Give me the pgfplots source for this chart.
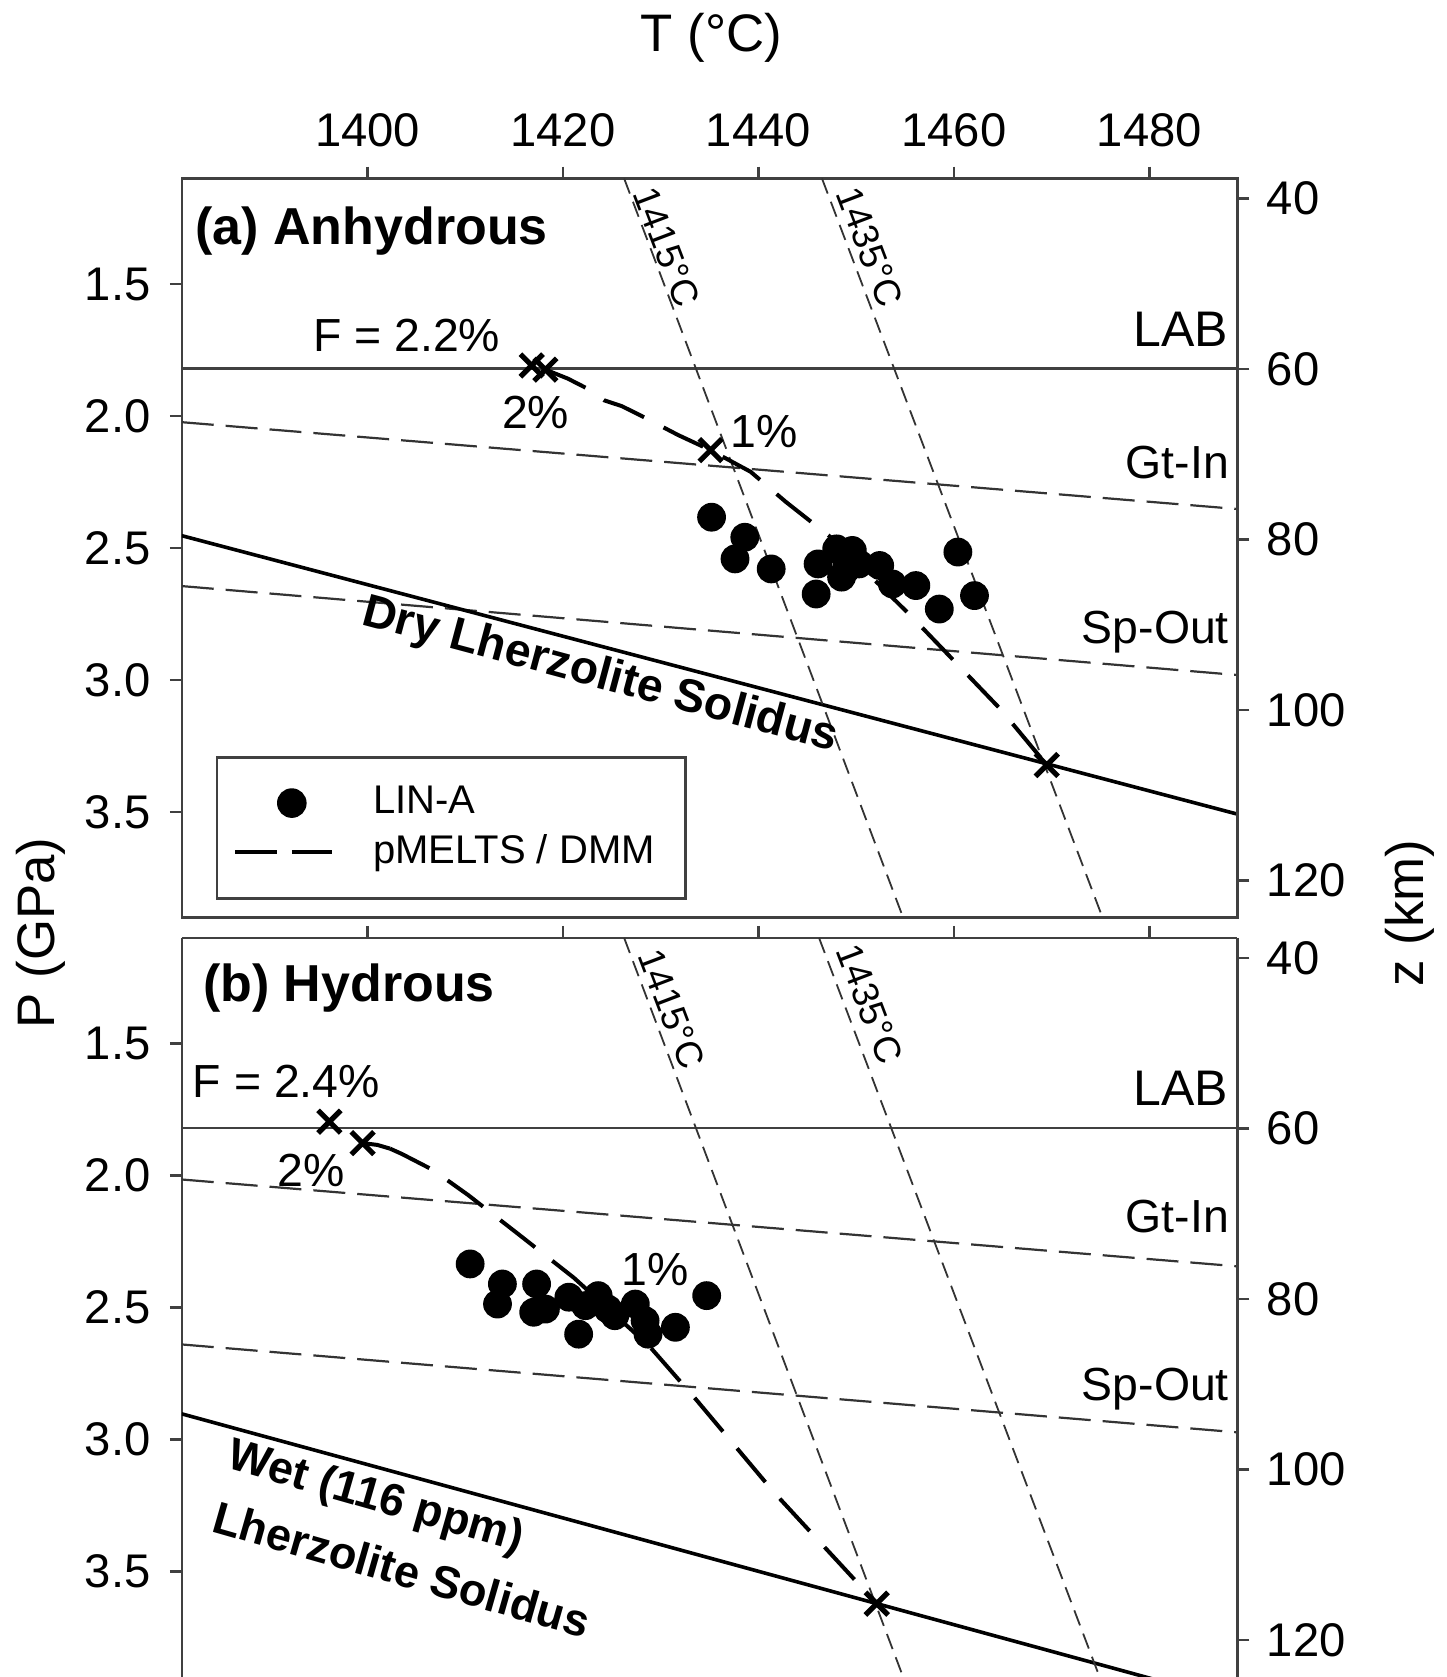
\documentclass[border=0pt]{standalone}
\usepackage{fontspec}
\setmainfont{Liberation Sans}
\setsansfont{Liberation Sans}
\usepackage{pgfplots}
\pgfplotsset{compat=1.18}
\tikzset{
  txt/.style={font=\fontsize{11.6}{13}\selectfont, inner sep=0pt},
  btxt/.style={font=\fontsize{13}{15}\selectfont\bfseries, inner sep=0pt},
  stxt/.style={font=\fontsize{9.3}{11}\selectfont, inner sep=0pt},
}
\begin{document}
\begin{tikzpicture}
\useasboundingbox (0pt,0pt) rectangle (361.5pt,419.25pt);
\pgfplotsset{
  panel/.style={
    scale only axis, width=263.9pt, height=184.75pt,
    xmin=1381, xmax=1489, ymin=1.1, ymax=3.9, y dir=reverse,
    xtick={1400,1420,1440,1460,1480}, ytick={1.5,2.0,2.5,3.0,3.5},
    tick align=outside, major tick length=3pt,
    axis line style={black!75, line width=0.6pt},
    every tick/.style={black!75, line width=0.6pt},
    ytick pos=left,
    /pgf/number format/assume math mode=true,
    tick label style={font=\fontsize{11.8}{14}\selectfont},
    yticklabel style={xshift=-1.3pt, /pgf/number format/.cd, fixed, fixed zerofill, precision=1, assume math mode=true},
    xticklabel style={yshift=1.3pt, /pgf/number format/.cd, 1000 sep={}, assume math mode=true},
  },
  zax/.style={
    scale only axis, width=263.9pt, height=184.75pt,
    xmin=1381, xmax=1489, ymin=37.68, ymax=124.34, y dir=reverse,
    axis x line=none, axis y line*=right, y axis line style={-, black!75, line width=0.6pt},
    ytick={40,60,80,100,120}, tick align=outside, major tick length=3pt,
    every tick/.style={black!75, line width=0.6pt},
    /pgf/number format/assume math mode=true,
    tick label style={font=\fontsize{11.8}{14}\selectfont},
    yticklabel style={xshift=0.8pt},
  },
  lab/.style={black!75, line width=0.6pt},
  bnd/.style={black!80, line width=0.55pt, dash pattern=on 8pt off 3pt},
  adia/.style={black!80, line width=0.45pt, dash pattern=on 4pt off 2.2pt},
  sol/.style={black, line width=0.9pt},
  melt/.style={black, line width=1pt, dash pattern=on 11pt off 5.5pt},
  dots/.style={only marks, mark=*, mark size=3.4pt, black},
  xs/.style={only marks, mark=x, mark size=4pt, black, line width=1.3pt},
}
% ---------- top panel ----------
\begin{axis}[panel, at={(45.45pt,189.85pt)}, anchor=south west,
  xtick pos=right, xticklabel pos=right,
  legend style={at={(axis cs:1384.5,3.289)}, anchor=north west,
    draw=black!75, line width=0.6pt, font=\fontsize{10}{12}\selectfont,
    inner xsep=4pt, inner ysep=5.7pt, row sep=0.7pt,
    nodes={inner ysep=1.5pt, inner xsep=1pt},
    /tikz/every odd column/.append style={column sep=8.85pt}},
  legend cell align=left]
\addplot[lab, forget plot] coordinates {(1381,1.82) (1489,1.82)};
\addplot[bnd, forget plot] coordinates {(1381,2.023) (1489,2.352)};
\addplot[bnd, forget plot] coordinates {(1381,2.644) (1489,2.981)};
\addplot[sol, forget plot] coordinates {(1381,2.453) (1489,3.508)};
\addplot[adia, forget plot] coordinates {(1426.26,1.1) (1454.8,3.9)};
\addplot[adia, forget plot] coordinates {(1446.5,1.1) (1475.2,3.9)};
\addplot[dots, legend image code/.code={\path[draw=none,fill=none] (0pt,0pt) -- (24.15pt,0pt); \fill[black] (14.15pt,0pt) circle (3.4pt);}] coordinates {
(1435.2,2.383) (1438.6,2.459) (1437.6,2.541) (1441.3,2.579) (1446.1,2.560)
(1445.9,2.674) (1448.0,2.503) (1449.6,2.509) (1448.5,2.610) (1448.8,2.528)
(1449.0,2.579) (1450.3,2.560) (1452.4,2.566) (1453.7,2.636) (1456.1,2.642)
(1458.5,2.731) (1460.4,2.515) (1462.1,2.680)};
\addlegendentry{LIN-A}
\addplot[melt, legend image code/.code={\draw[black, line width=1pt, dash pattern=on 10.4pt off 3.75pt] (0pt,0pt) -- (24.15pt,0pt);}] coordinates {
(1418.2,1.824) (1420.5,1.858) (1422.4,1.894) (1424.2,1.940) (1426.0,1.962)
(1427.8,1.995) (1431.8,2.072) (1435.1,2.129) (1439.2,2.211) (1442.8,2.325)
(1447.6,2.465) (1455.6,2.757) (1464.8,3.112) (1469.5,3.322)};
\addlegendentry{pMELTS / DMM\kern2.7pt}
\addplot[xs, forget plot] coordinates {(1416.8,1.808) (1418.2,1.824) (1435.1,2.129) (1469.5,3.322)};
\node[btxt, anchor=west] at (axis cs:1382.3,1.297) {(a) Anhydrous};
\node[txt] at (axis cs:1404.0,1.695) {F = 2.2\%};
\node[txt] at (axis cs:1417.2,1.987) {2\%};
\node[txt] at (axis cs:1440.6,2.060) {1\%};
\node[txt, anchor=east, font=\fontsize{12.5}{14}\selectfont] at (axis cs:1488.1,1.670) {LAB};
\node[txt, anchor=east] at (axis cs:1488.2,2.177) {Gt-In};
\node[txt, anchor=east] at (axis cs:1488.2,2.818) {Sp-Out};
\node[btxt, font=\fontsize{11.6}{13}\selectfont\bfseries, rotate=-15] at (axis cs:1423.8,2.985) {Dry Lherzolite Solidus};
\node[stxt, rotate=-69.2] at (axis cs:1430.6,1.358) {1415°C};
\node[stxt, rotate=-69.2] at (axis cs:1451.4,1.358) {1435°C};
\end{axis}
\begin{axis}[zax, at={(45.45pt,189.85pt)}, anchor=south west]
\end{axis}
% ---------- bottom panel ----------
\begin{axis}[panel, at={(45.45pt,0pt)}, anchor=south west,
  axis x line*=top, x axis line style={-}, xticklabels={}]
\addplot[lab] coordinates {(1381,1.82) (1489,1.82)};
\addplot[bnd] coordinates {(1381,2.015) (1489,2.344)};
\addplot[bnd] coordinates {(1381,2.640) (1489,2.973)};
\addplot[sol] coordinates {(1381,2.903) (1489,3.995)};
\addplot[adia] coordinates {(1426.26,1.1) (1454.8,3.9)};
\addplot[adia] coordinates {(1446.2,1.1) (1474.9,3.9)};
\addplot[dots] coordinates {
(1410.5,2.335) (1413.8,2.411) (1413.3,2.487) (1417.3,2.411) (1417.0,2.518)
(1418.2,2.506) (1420.6,2.461) (1421.6,2.601) (1422.3,2.493) (1423.6,2.455)
(1424.6,2.506) (1425.3,2.531) (1427.4,2.487) (1428.4,2.550) (1428.7,2.601)
(1431.5,2.575) (1434.7,2.455)};
\addplot[black, line width=1pt] coordinates {(1399.5,1.877) (1401.0,1.884) (1402.3,1.898)};
\addplot[melt] coordinates {
(1402.3,1.898) (1403.5,1.918) (1406.7,1.979) (1410.3,2.074) (1415.5,2.224)
(1421.1,2.387) (1428.8,2.645) (1433.6,2.848) (1441.6,3.201) (1452.1,3.622)};
\addplot[xs] coordinates {(1396.1,1.796) (1399.5,1.877) (1452.1,3.622)};
\node[btxt, anchor=west] at (axis cs:1383.1,1.289) {(b) Hydrous};
\node[txt] at (axis cs:1391.7,1.642) {F = 2.4\%};
\node[txt] at (axis cs:1394.2,1.979) {2\%};
\node[txt] at (axis cs:1429.4,2.356) {1\%};
\node[txt, anchor=east, font=\fontsize{12.5}{14}\selectfont] at (axis cs:1488.1,1.671) {LAB};
\node[txt, anchor=east] at (axis cs:1488.2,2.157) {Gt-In};
\node[txt, anchor=east] at (axis cs:1488.2,2.808) {Sp-Out};
\node[btxt, font=\fontsize{11.3}{13}\selectfont\bfseries, rotate=-16] at (axis cs:1400.8,3.225) {Wet (116 ppm)};
\node[btxt, font=\fontsize{11.3}{13}\selectfont\bfseries, rotate=-16] at (axis cs:1403.5,3.492) {Lherzolite Solidus};
\node[stxt, rotate=-69.2] at (axis cs:1431.1,1.370) {1415°C};
\node[stxt, rotate=-69.2] at (axis cs:1451.4,1.350) {1435°C};
\end{axis}
\begin{axis}[zax, at={(45.45pt,0pt)}, anchor=south west]
\end{axis}
% ---------- outer labels ----------
\node[font=\fontsize{13.2}{15}\selectfont] at (177.8pt,409.9pt) {T (°C)};
\node[font=\fontsize{13.2}{15}\selectfont, rotate=90] at (10.2pt,186pt) {P (GPa)};
\node[font=\fontsize{13.2}{15}\selectfont, rotate=90] at (352.4pt,191pt) {z (km)};
\end{tikzpicture}
\end{document}
